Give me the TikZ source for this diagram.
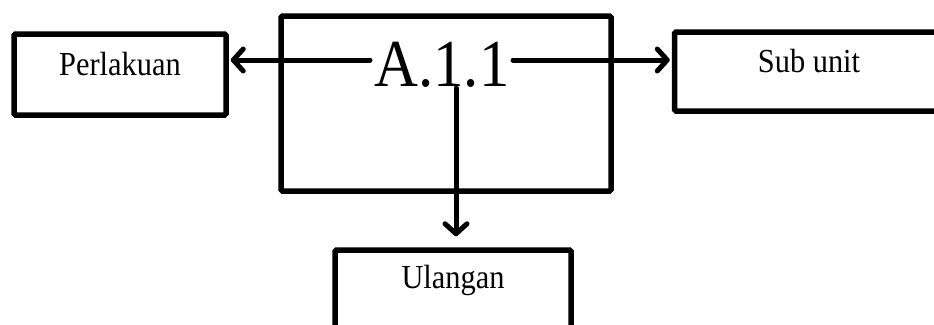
\documentclass[tikz,border=0pt]{standalone}
\usepackage{fontspec}
\setmainfont{Liberation Serif}
\usetikzlibrary{arrows.meta}
\begin{document}
\begin{tikzpicture}[x=1pt,y=-1pt,
  box/.style={draw=black,line width=5.5pt,rounded corners=1.5pt,inner sep=0pt,fill=none},
  lbl/.style={font=\fontsize{32}{36}\selectfont,anchor=base,inner sep=0pt},
  arr/.style={line width=5pt,line cap=round,line join=round,
    -{Straight Barb[length=10pt,width=22pt,line cap=round,line join=round]}}]
  \clip (0,0) rectangle (934,324);
  \fill[white] (0,0) rectangle (934,324);
  % boxes
  \node[box,minimum width=212pt,minimum height=81pt] (perl) at (120,74.5) {};
  \node[box,minimum width=330pt,minimum height=175pt] (main) at (446,103.5) {};
  \node[box,minimum width=305pt,minimum height=79pt] (sub) at (827,71.5) {};
  \node[box,minimum width=236pt,minimum height=100pt] (ulang) at (453,300) {};
  % labels
  \node[lbl] (perlt) at (120,75) {\scalebox{0.95}[1.05]{Perlakuan}};
  \node[lbl] (subt) at (809,72) {\scalebox{0.95}[1.05]{Sub unit}};
  \node[lbl] (ulangt) at (453,288) {\scalebox{0.95}[1.05]{Ulangan}};
  \node[font=\fontsize{64}{70}\selectfont,anchor=base,inner sep=0pt] (code) at (442,86) {\scalebox{0.95}[1.05]{A.1.1}};
  % connectors
  \coordinate (cl) at (370,60);
  \coordinate (cr) at (513,60);
  \coordinate (cd) at (456,88);
  \draw[arr] (cl) -- ([xshift=2pt]cl -| perl.east);
  \draw[arr] (cr) -- ([xshift=-2pt]cr -| sub.west);
  \draw[arr] (cd) -- ([yshift=11pt]cd |- ulang.north);
\end{tikzpicture}
\end{document}
